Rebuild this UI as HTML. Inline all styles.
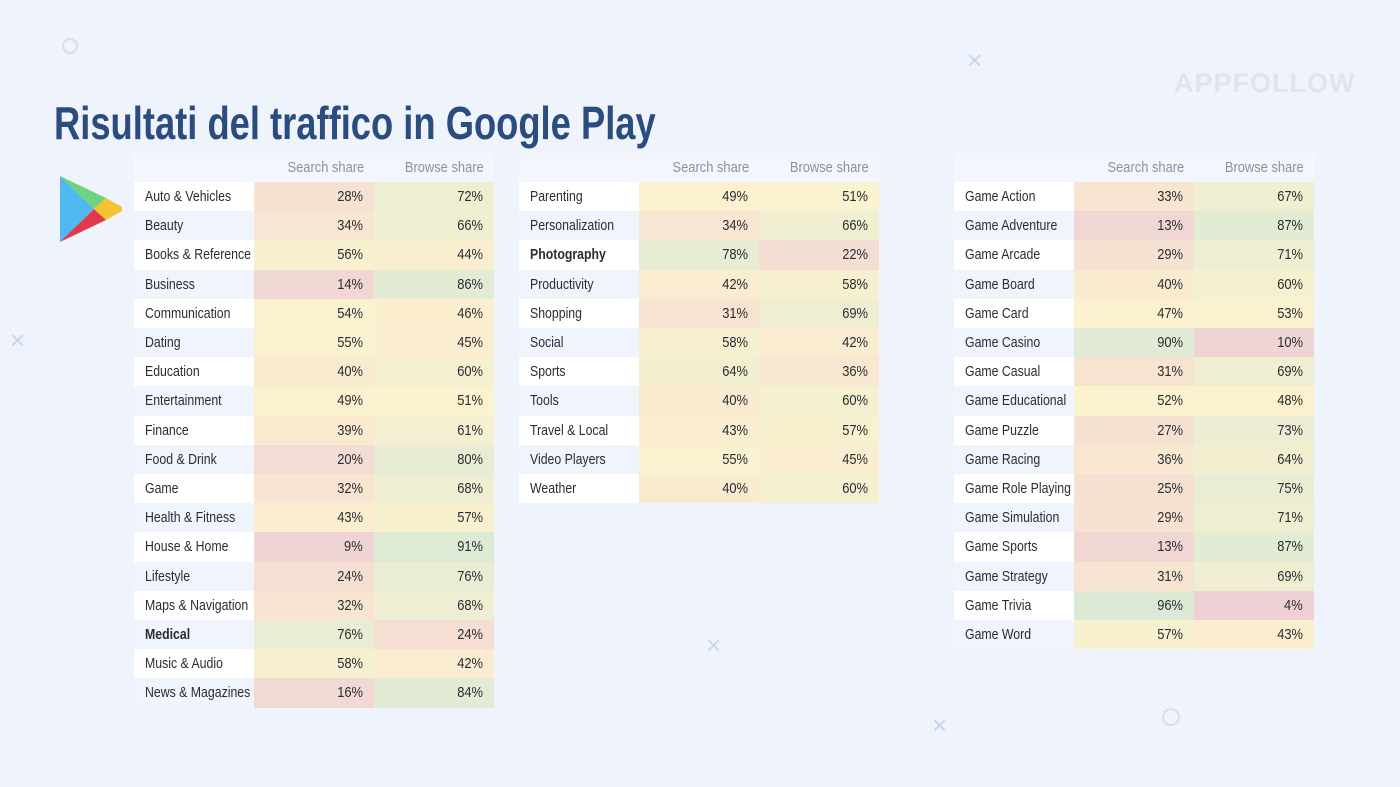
<!DOCTYPE html>
<html><head><meta charset="utf-8"><style>
body{margin:0;width:1400px;height:787px;background:#eef3fc;position:relative;overflow:hidden;font-family:"Liberation Sans",sans-serif;}
.title{position:absolute;left:54px;top:96px;font-size:46px;font-weight:bold;color:#2b4c7e;white-space:nowrap;transform:scaleX(0.79);transform-origin:0 0;}
.wm{position:absolute;left:1174px;top:68px;font-weight:bold;font-size:27px;color:#dfe4ee;letter-spacing:1px;}
.tbl{position:absolute;}
.hdr{position:absolute;top:-29px;height:29px;background:#f3f6fd;}
.h{position:absolute;top:-23px;width:110px;text-align:right;font-size:15px;color:#8c929c;white-space:nowrap;}
.row{position:absolute;height:29.2px;width:360px;}
.c{position:absolute;top:0;height:100%;line-height:29px;font-size:15px;color:#2a2d33;white-space:nowrap;}
.s{display:inline-block;transform:scaleX(0.86);}
.lab{left:0;width:120px;padding-left:11px;box-sizing:border-box;}
.lab .s{transform-origin:0 50%;transform:scaleX(0.82);}
.v{width:120px;text-align:right;padding-right:11px;box-sizing:border-box;}
.v .s,.h .s{transform-origin:100% 50%;}
.mk{position:absolute;color:#c9d5ef;}
</style></head><body>
<div class="title">Risultati del traffico in Google Play</div>
<div class="wm">APPFOLLOW</div>
<div class="mk" style="left:62px;top:38px;width:12px;height:12px;border:2px solid #d6def0;border-radius:50%"></div>
<div class="mk" style="left:1162px;top:708px;width:14px;height:14px;border:2px solid #d6def0;border-radius:50%"></div>
<div class="mk" style="left:967px;top:45px;font-size:26px">×</div>
<div class="mk" style="left:10px;top:325px;font-size:26px">×</div>
<div class="mk" style="left:706px;top:630px;font-size:26px">×</div>
<div class="mk" style="left:932px;top:710px;font-size:26px">×</div>
<svg style="position:absolute;left:58px;top:174px" width="66" height="70" viewBox="0 0 66 70">
<polygon points="2,2 36,35 2,68" fill="#4fb8ef"/>
<polygon points="2,2 36,35 48,24" fill="#6fd37f"/>
<polygon points="2,68 36,35 48,46" fill="#e2384f"/>
<polygon points="36,35 48,24 64,33 64,37 48,46" fill="#f5c330"/>
</svg>
<div id="root"></div>
<script>
const T=[
[134,[["Auto & Vehicles",28],["Beauty",34],["Books & Reference",56],["Business",14],["Communication",54],["Dating",55],["Education",40],["Entertainment",49],["Finance",39],["Food & Drink",20],["Game",32],["Health & Fitness",43],["House & Home",9],["Lifestyle",24],["Maps & Navigation",32],["Medical",76,1],["Music & Audio",58],["News & Magazines",16]]],
[519,[["Parenting",49],["Personalization",34],["Photography",78,1],["Productivity",42],["Shopping",31],["Social",58],["Sports",64],["Tools",40],["Travel & Local",43],["Video Players",55],["Weather",40]]],
[954,[["Game Action",33],["Game Adventure",13],["Game Arcade",29],["Game Board",40],["Game Card",47],["Game Casino",90],["Game Casual",31],["Game Educational",52],["Game Puzzle",27],["Game Racing",36],["Game Role Playing",25],["Game Simulation",29],["Game Sports",13],["Game Strategy",31],["Game Trivia",96],["Game Word",57]]]];
const R=[237,205,213],Y=[252,242,207],G=[217,232,214];
function col(p){let a,b,t;if(p<50){a=R;b=Y;t=p/50}else{a=Y;b=G;t=(p-50)/50}
return "rgb("+a.map((x,i)=>Math.round(x+(b[i]-x)*t)).join(",")+")";}
let h="";
for(const [x,rows] of T){
h+=`<div class="tbl" style="left:${x}px;top:182px"><div class="hdr" style="left:0;width:360px"></div><div class="h" style="left:120px"><span class="s">Search share</span></div><div class="h" style="left:240px"><span class="s">Browse share</span></div>`;
rows.forEach((r,i)=>{const s=r[1],b=100-s;
h+=`<div class="row" style="top:${i*29.2}px"><div class="c v" style="left:120px;background:${col(s)}"><span class="s">${s}%</span></div><div class="c v" style="left:240px;background:${col(b)}"><span class="s">${b}%</span></div><div class="c lab" style="background:${i%2?'#f0f4fc':'#fff'};${r[2]?'font-weight:bold':''}"><span class="s">${r[0].replace('&','&amp;')}</span></div></div>`;});
h+=`</div>`;}
document.getElementById("root").innerHTML=h;
</script>
</body></html>
